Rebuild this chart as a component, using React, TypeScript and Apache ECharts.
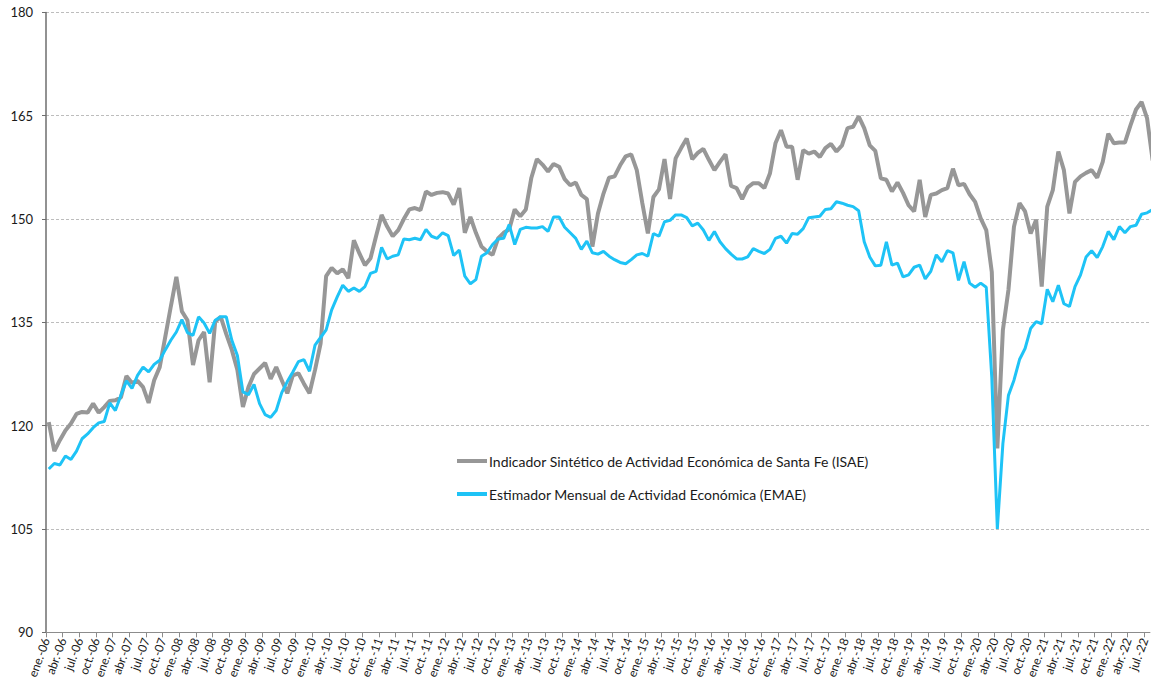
import React, { useEffect, useRef } from "react";
import * as echarts from "echarts";

// Month abbreviations (Spanish) and start year for the monthly category labels
const MONTH_ABBR = ["ene.", "feb.", "mar.", "abr.", "may.", "jun.", "jul.", "ago.", "sep.", "oct.", "nov.", "dic."];
const START_YEAR = 2006;
const LABEL_MONTHS = 199; // ene.-06 .. jul.-22 on the axis

// Y axis ticks
const Y_MIN = 90;
const Y_MAX = 180;
const Y_STEP = 15;

const SERIES_NAMES = [
  "Indicador Sintético de Actividad Económica de Santa Fe (ISAE)",
  "Estimador Mensual de Actividad Económica (EMAE)",
];

// ISAE, monthly from ene.-06
const ISAE = [
  120.5, 116.3, 117.9, 119.3, 120.3, 121.7, 122.0, 121.9, 123.2, 121.9, 122.7, 123.6,
  123.7, 124.1, 127.2, 126.2, 126.5, 125.6, 123.3, 126.6, 128.5, 132.9, 137.3, 141.6,
  136.6, 135.3, 128.8, 132.4, 133.6, 126.3, 135.1, 135.8, 133.3, 131.0, 128.1, 122.7,
  125.6, 127.5, 128.3, 129.1, 126.8, 128.5, 126.6, 124.7, 127.3, 127.6, 126.1, 124.7,
  128.1, 131.9, 141.7, 142.9, 142.1, 142.7, 141.4, 146.9, 145.0, 143.3, 144.3, 147.5,
  150.6, 148.9, 147.5, 148.4, 150.0, 151.4, 151.6, 151.3, 154.0, 153.5, 153.8, 153.9,
  153.7, 152.1, 154.5, 148.0, 150.3, 148.0, 146.0, 145.3, 144.8, 147.2, 148.0, 148.5,
  151.4, 150.4, 151.4, 156.0, 158.7, 157.9, 156.9, 158.0, 157.6, 155.8, 154.9, 155.3,
  153.5, 152.9, 146.0, 150.8, 153.7, 156.0, 156.2, 157.8, 159.1, 159.4, 157.1, 152.3,
  147.9, 153.2, 154.3, 158.7, 152.9, 158.8, 160.3, 161.7, 158.7, 159.6, 160.2, 158.6,
  157.1, 158.3, 159.4, 154.8, 154.5, 152.9, 154.6, 155.2, 155.2, 154.5, 156.6, 161.0,
  162.9, 160.5, 160.5, 155.7, 160.0, 159.5, 159.8, 159.0, 160.3, 160.9, 159.8, 160.7,
  163.2, 163.4, 164.9, 163.2, 160.7, 159.9, 155.9, 155.7, 154.0, 155.3, 153.8, 152.0,
  151.1, 155.7, 150.3, 153.5, 153.7, 154.2, 154.5, 157.3, 154.9, 155.1, 153.6, 152.5,
  150.1, 148.4, 142.3, 116.7, 133.9, 139.7, 148.9, 152.3, 151.1, 147.9, 149.9, 140.2,
  151.8, 154.2, 159.8, 157.1, 150.8, 155.4, 156.2, 156.7, 157.1, 156.0, 158.3, 162.4,
  161.0, 161.1, 161.1, 163.6, 165.9, 167.0, 164.6, 158.5,
];

// EMAE, monthly from ene.-06
const EMAE = [
  113.7, 114.5, 114.3, 115.6, 115.1, 116.3, 118.1, 118.8, 119.7, 120.4, 120.6, 123.3,
  122.2, 124.4, 126.5, 125.4, 127.3, 128.5, 127.8, 128.9, 129.5, 131.0, 132.4, 133.6,
  135.4, 133.5, 133.1, 135.8, 134.9, 133.4, 135.3, 135.8, 135.8, 132.4, 130.2, 124.9,
  124.5, 126.0, 123.2, 121.6, 121.2, 122.2, 124.8, 126.4, 127.8, 129.3, 129.6, 127.9,
  131.7, 132.8, 133.9, 136.8, 138.7, 140.4, 139.5, 140.0, 139.5, 140.2, 142.1, 142.4,
  145.9, 144.2, 144.6, 144.8, 147.1, 147.0, 147.2, 147.0, 148.5, 147.5, 147.2, 148.0,
  147.6, 144.7, 145.5, 141.7, 140.6, 141.2, 144.6, 145.1, 146.3, 147.1, 147.2, 149.2,
  146.3, 148.5, 148.8, 148.7, 148.7, 148.9, 148.2, 150.3, 150.3, 148.8, 148.0, 147.2,
  145.6, 146.8, 145.1, 144.9, 145.3, 144.6, 144.1, 143.7, 143.5, 144.1, 144.8, 145.0,
  144.6, 147.9, 147.5, 149.6, 149.8, 150.6, 150.6, 150.2, 149.0, 149.4, 148.4, 146.9,
  148.2, 146.7, 145.7, 144.9, 144.2, 144.2, 144.5, 145.7, 145.3, 145.0, 145.6, 147.2,
  147.5, 146.5, 147.9, 147.8, 148.6, 150.2, 150.3, 150.4, 151.4, 151.5, 152.5, 152.3,
  152.0, 151.8, 151.2, 146.7, 144.5, 143.2, 143.3, 146.7, 143.3, 143.6, 141.6, 141.9,
  143.0, 143.3, 141.3, 142.4, 144.8, 143.8, 145.4, 145.1, 141.1, 143.8, 140.7, 140.1,
  140.7, 140.1, 127.0, 105.0, 117.4, 124.4, 126.6, 129.6, 131.2, 134.1, 135.1, 134.8,
  139.8, 138.0, 140.4, 137.7, 137.3, 140.2, 141.9, 144.5, 145.4, 144.4, 146.0, 148.2,
  147.0, 148.9, 148.0, 148.9, 149.1, 150.7, 150.9, 151.4,
];

const MONTH_LABELS: string[] = [];
for (let i = 0; i < LABEL_MONTHS; i++) {
  const yy = String((START_YEAR + Math.floor(i / 12)) % 100).padStart(2, "0");
  MONTH_LABELS.push(`${MONTH_ABBR[i % 12]}-${yy}`);
}
const TICK_VALUES: number[] = [];
for (let i = 0; i < LABEL_MONTHS; i += 3) TICK_VALUES.push(i);

const FONT = "Lato, 'Open Sans', sans-serif";

export default function App() {
  const ref = useRef<HTMLDivElement>(null);
  useEffect(() => {
    if (!ref.current) return;
    const chart = echarts.init(ref.current, undefined, { renderer: "svg" });
    const toPairs = (arr: number[]) => arr.map((v, i) => [i + 0.5, v]);
    chart.setOption({
      animation: false,
      backgroundColor: "#ffffff",
      textStyle: { fontFamily: FONT },
      grid: { left: 46, right: 0, top: 12.4, bottom: 49.7, containLabel: false },
      legend: {
        orient: "vertical",
        left: 452,
        top: 446,
        padding: 5,
        itemWidth: 30,
        itemHeight: 4,
        itemGap: 13,
        icon: "rect",
        textStyle: {
          fontFamily: FONT,
          fontSize: 14,
          color: "#1a1a1a",
          lineHeight: 20,
          padding: [0, 0, 0, -3],
        },
        data: SERIES_NAMES,
      },
      xAxis: {
        type: "value",
        min: 0,
        max: LABEL_MONTHS,
        axisLine: { show: true, lineStyle: { color: "#8c8c8c", width: 1.2 } },
        axisTick: { show: true, customValues: TICK_VALUES, length: 5, lineStyle: { color: "#8c8c8c" } },
        axisLabel: {
          customValues: TICK_VALUES,
          rotate: 70,
          margin: 6,
          fontFamily: FONT,
          fontSize: 12,
          color: "#1a1a1a",
          formatter: (v: number) => MONTH_LABELS[Math.round(v)] ?? "",
        },
        splitLine: { show: false },
      },
      yAxis: {
        type: "value",
        min: Y_MIN,
        max: Y_MAX,
        interval: Y_STEP,
        axisLine: { show: true, lineStyle: { color: "#6e6e6e", width: 1.5 } },
        axisTick: { show: true, length: 4, lineStyle: { color: "#6e6e6e" } },
        axisLabel: { margin: 13, fontFamily: FONT, fontSize: 13, color: "#1a1a1a" },
        splitLine: { show: true, lineStyle: { color: "#bdbdbd", type: [3, 2], width: 1 } },
      },
      series: [
        {
          name: SERIES_NAMES[0],
          type: "line",
          data: toPairs(ISAE),
          showSymbol: false,
          clip: true,
          lineStyle: { color: "#979797", width: 4 },
          itemStyle: { color: "#979797" },
        },
        {
          name: SERIES_NAMES[1],
          type: "line",
          data: toPairs(EMAE),
          showSymbol: false,
          clip: true,
          lineStyle: { color: "#1ec3f6", width: 3 },
          itemStyle: { color: "#1ec3f6" },
        },
      ],
    });
    return () => chart.dispose();
  }, []);
  return (
    <div
      ref={ref}
      style={{ position: "fixed", left: 0, top: 0, width: 1151, height: 682, background: "#fff" }}
    />
  );
}
